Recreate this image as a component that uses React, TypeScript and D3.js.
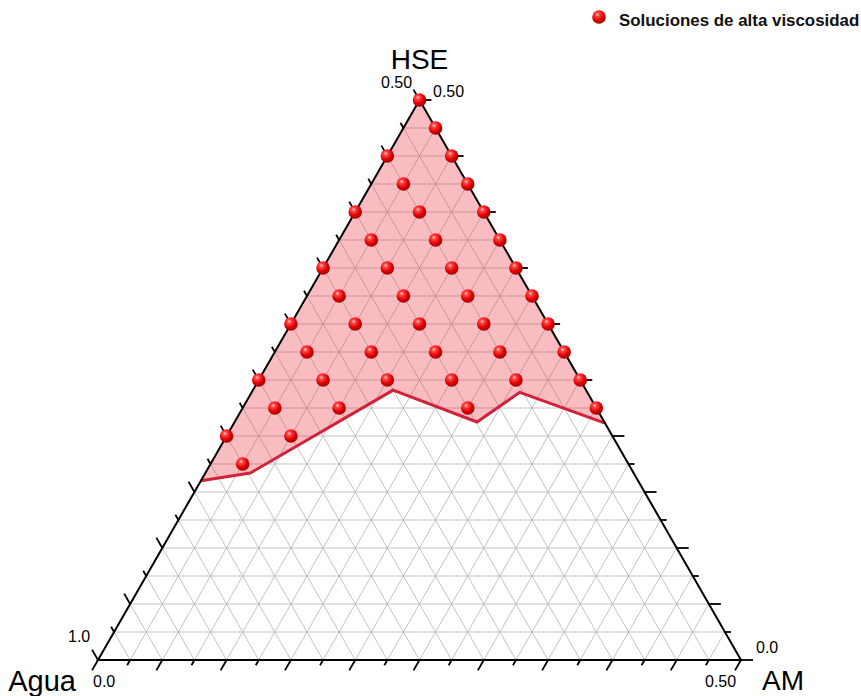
import React from "react";
import * as d3 from "d3";

// ---- data ----
const tickValues = [0, 0.025, 0.05, 0.075, 0.1, 0.125, 0.15, 0.175, 0.2, 0.225, 0.25, 0.275, 0.3, 0.325, 0.35, 0.375, 0.4, 0.425, 0.45, 0.475, 0.5];
const majorTicks = [0, 0.05, 0.1, 0.15, 0.2, 0.25, 0.3, 0.35, 0.4, 0.45, 0.5];

const pointAM = [
  0,
  0.025,
  0, 0.05,
  0.025, 0.075,
  0, 0.05, 0.1,
  0.025, 0.075, 0.125,
  0, 0.05, 0.1, 0.15,
  0.025, 0.075, 0.125, 0.175,
  0, 0.05, 0.1, 0.15, 0.2,
  0.025, 0.075, 0.125, 0.175, 0.225,
  0, 0.05, 0.1, 0.15, 0.2, 0.25,
  0.025, 0.075, 0.175, 0.275,
  0, 0.05,
  0.025,
];
const pointHSE = [
  0.5,
  0.475,
  0.45, 0.45,
  0.425, 0.425,
  0.4, 0.4, 0.4,
  0.375, 0.375, 0.375,
  0.35, 0.35, 0.35, 0.35,
  0.325, 0.325, 0.325, 0.325,
  0.3, 0.3, 0.3, 0.3, 0.3,
  0.275, 0.275, 0.275, 0.275, 0.275,
  0.25, 0.25, 0.25, 0.25, 0.25, 0.25,
  0.225, 0.225, 0.225, 0.225,
  0.2, 0.2,
  0.175,
];

const boundaryAM = [0, 0.035, 0.109, 0.1885, 0.2085, 0.2885];
const boundaryHSE = [0.16, 0.167, 0.241, 0.2125, 0.239, 0.2115];

const legendLabel = "Soluciones de alta viscosidad";
const titleTop = "HSE";
const titleLeft = "Agua";
const titleRight = "AM";
const labelAguaMin = "0.50";
const labelAguaMax = "1.0";
const labelAMMin = "0.0";
const labelAMMax = "0.50";
const labelHSEMin = "0.0";
const labelHSEMax = "0.50";

// ---- layout ----
const W = 861;
const H = 696;
const A = [98, 660]; // Agua vertex
const B = [741, 660]; // AM vertex
const T = [419.5, 100]; // HSE vertex
const FONT = "'Liberation Sans', Arial, sans-serif";

const uScale = d3.scaleLinear().domain([0, 0.5]).range([0, 1]);
const vScale = d3.scaleLinear().domain([0, 0.5]).range([0, 1]);

function project(am: number, hse: number): [number, number] {
  const u = uScale(am);
  const v = vScale(hse);
  return [A[0] + u * (B[0] - A[0]) + v * (T[0] - A[0]), A[1] + v * (T[1] - A[1])];
}

function unit(dx: number, dy: number): [number, number] {
  const n = Math.hypot(dx, dy);
  return [dx / n, dy / n];
}

const isMajor = (t: number) => majorTicks.some((m) => Math.abs(m - t) < 1e-9);

export default function App() {
  const line = d3.line<[number, number]>().x((d) => d[0]).y((d) => d[1]);

  const grid: { p: [number, number]; q: [number, number] }[] = [];
  tickValues.forEach((t) => {
    if (t <= 0 || t >= 0.5) return;
    grid.push({ p: project(0, t), q: project(0.5 - t, t) });
    grid.push({ p: project(t, 0), q: project(t, 0.5 - t) });
    grid.push({ p: project(t, 0), q: project(0, t) });
  });

  const boundaryPts = boundaryAM.map((a, i) => project(a, boundaryHSE[i]));
  const regionPts: [number, number][] = [project(0, 0.5), ...boundaryPts];

  const dBottom = unit(A[0] - T[0], A[1] - T[1]);
  const dLeft = unit(T[0] - B[0], T[1] - B[1]);
  const dRight: [number, number] = [1, 0];

  const ticks: { p: [number, number]; d: [number, number]; major: boolean }[] = [];
  tickValues.forEach((t) => {
    const major = isMajor(t);
    ticks.push({ p: project(t, 0), d: dBottom, major });
    ticks.push({ p: project(0, t), d: dLeft, major }); // Agua = 1 - t
    ticks.push({ p: project(0.5 - t, t), d: dRight, major });
  });

  const points = pointAM.map((a, i) => project(a, pointHSE[i]));

  return (
    <svg width={W} height={H} style={{ position: "absolute", left: 0, top: 0, background: "#fff" }}>
      <defs>
        <radialGradient id="ball" cx="38%" cy="32%" r="68%">
          <stop offset="0%" stopColor="#ffd0d0" />
          <stop offset="22%" stopColor="#ff4545" />
          <stop offset="65%" stopColor="#e00000" />
          <stop offset="100%" stopColor="#a00000" />
        </radialGradient>
      </defs>
      <g>
        {grid.map((g, i) => (
          <line key={i} x1={g.p[0]} y1={g.p[1]} x2={g.q[0]} y2={g.q[1]} stroke="#b4b4b4" strokeWidth={0.8} />
        ))}
      </g>
      <path d={line(regionPts) + "Z"} fill="#ea2e3e" fillOpacity={0.32} stroke="none" />
      <path d={line(boundaryPts) || ""} fill="none" stroke="#d0233a" strokeWidth={3} strokeLinejoin="round" />
      <path d={line([A as [number, number], B as [number, number], T as [number, number]]) + "Z"} fill="none" stroke="#000" strokeWidth={2} />
      <g>
        {ticks.map((t, i) => {
          const len = t.major ? 12 : 6;
          return (
            <line key={i} x1={t.p[0]} y1={t.p[1]} x2={t.p[0] + t.d[0] * len} y2={t.p[1] + t.d[1] * len} stroke="#000" strokeWidth={1.8} />
          );
        })}
      </g>
      <g>
        {points.map((p, i) => (
          <circle key={i} cx={p[0]} cy={p[1]} r={6.8} fill="url(#ball)" />
        ))}
      </g>
      <g fontFamily={FONT} fill="#000">
        <text x={T[0]} y={69} fontSize={28} textAnchor="middle">{titleTop}</text>
        <text x={76} y={691} fontSize={29} textAnchor="end">{titleLeft}</text>
        <text x={762} y={690} fontSize={28}>{titleRight}</text>
        <text x={381} y={88} fontSize={16}>{labelAguaMin}</text>
        <text x={433} y={97} fontSize={16}>{labelHSEMax}</text>
        <text x={68} y={642} fontSize={16}>{labelAguaMax}</text>
        <text x={93} y={687} fontSize={16}>{labelAMMin}</text>
        <text x={705} y={687} fontSize={16}>{labelAMMax}</text>
        <text x={756} y={653} fontSize={16}>{labelHSEMin}</text>
      </g>
      <circle cx={599} cy={17} r={6.8} fill="url(#ball)" />
      <text x={619} y={26} fontFamily={FONT} fontSize={16.9} fontWeight="bold" fill="#111">{legendLabel}</text>
    </svg>
  );
}
